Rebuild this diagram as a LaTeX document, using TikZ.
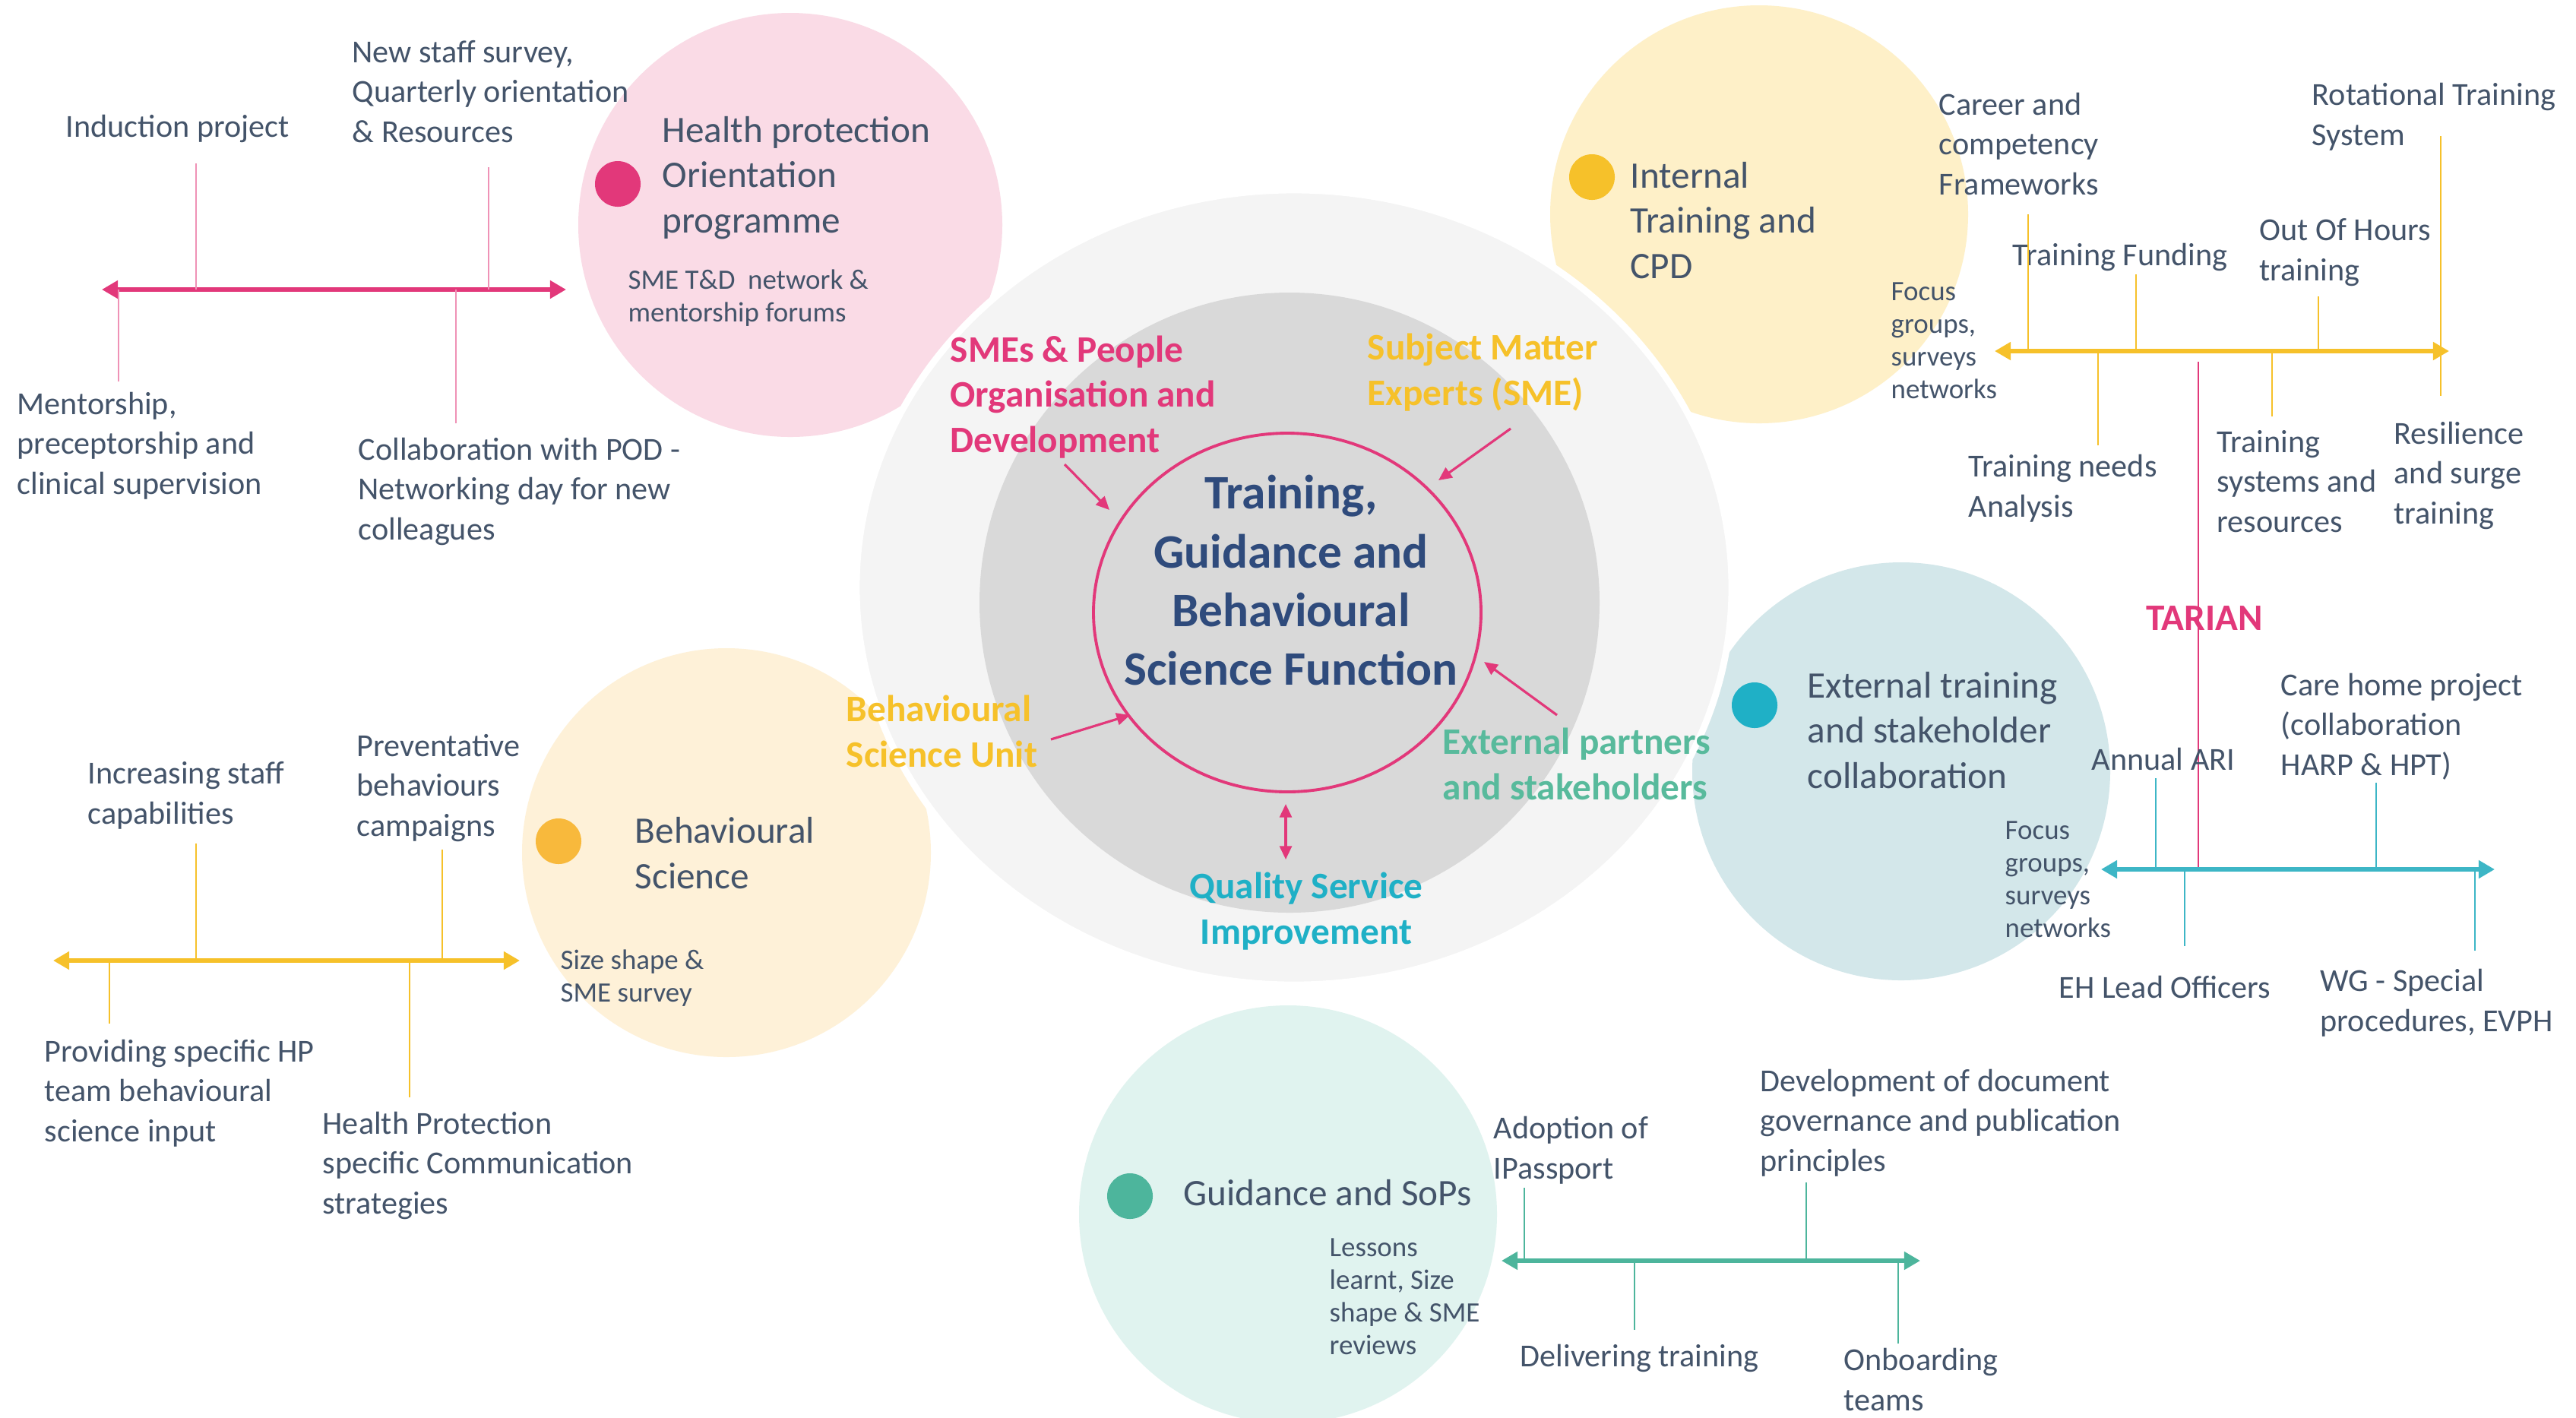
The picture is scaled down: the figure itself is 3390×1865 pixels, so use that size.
\documentclass[tikz,border=0pt]{standalone}
\usepackage{fontspec}
\setmainfont{Carlito}
\usetikzlibrary{arrows.meta}
\definecolor{labc}{HTML}{44546A}
\definecolor{titc}{HTML}{2F4B7C}
\definecolor{pinkc}{HTML}{E2387A}
\definecolor{pinkbg}{HTML}{FADBE6}
\definecolor{yelc}{HTML}{F6C12A}
\definecolor{yelbg}{HTML}{FEF0C8}
\definecolor{orbg}{HTML}{FEF1D8}
\definecolor{ordot}{HTML}{F8B93C}
\definecolor{tealc}{HTML}{1FB0C6}
\definecolor{tealbg}{HTML}{D3E7EA}
\definecolor{tealln}{HTML}{3DB6C6}
\definecolor{grnc}{HTML}{4DB59C}
\definecolor{grnbg}{HTML}{E0F3EF}
\definecolor{grntx}{HTML}{58BA9C}
\definecolor{outg}{HTML}{F4F4F4}
\definecolor{ing}{HTML}{D9D9D9}
\tikzset{
 lbl/.style={font=\fontsize{12}{14.8}\selectfont, text=labc, align=left, inner sep=0pt, anchor=base west},
 sml/.style={font=\fontsize{10.5}{12.2}\selectfont, text=labc, align=left, inner sep=0pt, anchor=base west},
 ttl/.style={font=\fontsize{14}{16.9}\selectfont, text=labc, align=left, inner sep=0pt, anchor=base west},
 bld/.style={font=\fontsize{14}{16.9}\selectfont\bfseries, align=left, inner sep=0pt, anchor=base west},
 tline/.style={line width=1.7pt, {Triangle[length=6pt,width=6.5pt]}-{Triangle[length=6pt,width=6.5pt]}},
 tick/.style={line width=0.6pt},
 carrow/.style={draw=pinkc, line width=0.9pt, -{Triangle[length=5pt,width=4.5pt]}},
 dot/.style={circle, inner sep=0pt, minimum size=0.6cm},
}
\begin{document}
\begin{tikzpicture}[x=0.01cm,y=-0.01cm]
\useasboundingbox (0,0) rectangle (3390,1865);
\fill[white] (0,0) rectangle (3390,1865);
% coloured circles
\fill[pinkbg] (1040,296) ellipse [x radius=279, y radius=279];
\fill[yelbg] (2315,282) ellipse [x radius=275, y radius=275];
\fill[tealbg] (2502,1015) ellipse [x radius=275, y radius=275];
\fill[orbg] (956,1122) ellipse [x radius=269, y radius=269];
\fill[grnbg] (1695,1598) ellipse [x radius=275, y radius=275];
% central circles
\filldraw[fill=outg, draw=white, line width=2.5pt] (1703,773) ellipse [x radius=576, y radius=523];
\fill[ing] (1697,793) ellipse [x radius=408, y radius=408];
\draw[pinkc, line width=1.1pt] (1694,806) ellipse [x radius=255, y radius=236];
% dots
\node[dot, fill=pinkc] (d1) at (813,242) {};
\node[dot, fill=yelc] (d2) at (2095,233) {};
\node[dot, fill=tealc] (d3) at (2309,928) {};
\node[dot, fill=ordot] (d4) at (735,1107) {};
\node[dot, fill=grnc] (d5) at (1487,1574) {};

% central texts (multi-line nodes are placed by the baseline of their last line)
\node[font=\fontsize{18}{21.9}\selectfont\bfseries, text=titc, align=center, inner sep=0pt, anchor=base] (ctr) at (1699,901) {Training,\\Guidance and\\Behavioural\\Science Function};
\node[bld, text=pinkc] (smes) at (1250,595) {SMEs \& People\\Organisation and\\Development};
\node[bld, text=yelc] (sme) at (1799,533) {Subject Matter\\Experts (SME)};
\node[bld, text=yelc] (bsu) at (1113,1009) {Behavioural\\Science Unit};
\node[bld, text=grntx] (ext) at (1898,1052) {External partners\\and stakeholders};
\node[bld, text=tealc, align=center, anchor=base] (qsi) at (1719,1242) {Quality Service\\Improvement};
\coordinate (a1s) at (1401,611); \coordinate (a1e) at (1460,671);
\coordinate (a2s) at (1988,564); \coordinate (a2e) at (1893,632);
\coordinate (a3s) at (1383,973); \coordinate (a3e) at (1487,941);
\coordinate (a4s) at (2049,941); \coordinate (a4e) at (1953,871);
\coordinate (a5s) at (1692,1058); \coordinate (a5e) at (1692,1131);
\draw[carrow] (a1s) -- (a1e);
\draw[carrow] (a2s) -- (a2e);
\draw[carrow] (a3s) -- (a3e);
\draw[carrow] (a4s) -- (a4e);
\draw[carrow, {Triangle[length=5pt,width=4.5pt]}-{Triangle[length=5pt,width=4.5pt]}] (a5s) -- (a5e);

% ===== Health protection orientation =====
\node[ttl] (hpo) at (871,306) {Health protection\\Orientation\\programme};
\node[sml] (hpos) at (826,423) {SME T\&D\ \ network \&\\mentorship forums};
\node[lbl] (ind) at (86,180) {Induction project};
\node[lbl] (nss) at (463,187) {New staff survey,\\Quarterly orientation\\\& Resources};
\node[lbl] (men) at (22,650) {Mentorship,\\preceptorship and\\clinical supervision};
\node[lbl] (col) at (471,710) {Collaboration with POD -\\Networking day for new\\colleagues};
\coordinate (pL) at (134,381); \coordinate (pR) at (745,381);
\draw[tline, draw=pinkc, color=pinkc] (pL) -- (pR);
\coordinate (p1) at (258,215); \coordinate (p2) at (643,220);
\coordinate (p3) at (156,502); \coordinate (p4) at (600,557);
\draw[tick, draw=pinkc!55] (p1) -- (p1 |- pL);
\draw[tick, draw=pinkc!55] (p2) -- (p2 |- pL);
\draw[tick, draw=pinkc!55] (p3) -- (p3 |- pL);
\draw[tick, draw=pinkc!55] (p4) -- (p4 |- pL);

% ===== Internal training and CPD =====
\node[ttl] (itc) at (2145,366) {Internal\\Training and\\CPD};
\node[lbl] (car) at (2551,256) {Career and\\competency\\Frameworks};
\node[lbl] (rot) at (3042,191) {Rotational Training\\System};
\node[lbl] (fun) at (2648,349) {Training Funding};
\node[lbl] (ooh) at (2973,369) {Out Of Hours\\training};
\node[sml] (foc1) at (2488,524) {Focus\\groups,\\surveys\\networks};
\node[lbl] (tna) at (2590,680) {Training needs\\Analysis};
\node[lbl] (tsr) at (2917,700) {Training\\systems and\\resources};
\node[lbl] (res) at (3150,689) {Resilience\\and surge\\training};
\coordinate (yL) at (2625,462); \coordinate (yR) at (3223,462);
\draw[tline, draw=yelc, color=yelc] (yL) -- (yR);
\coordinate (y1) at (2669,282); \coordinate (y2) at (2811,361);
\coordinate (y3) at (3051,390); \coordinate (y4) at (3212,179);
\coordinate (y5) at (2761,586); \coordinate (y6) at (2990,548);
\coordinate (y7) at (3212,521);
\draw[tick, draw=yelc] (y1) -- (y1 |- yL);
\draw[tick, draw=yelc] (y2) -- (y2 |- yL);
\draw[tick, draw=yelc] (y3) -- (y3 |- yL);
\draw[tick, draw=yelc] (y4) -- (y7);
\draw[tick, draw=yelc] (y5) -- (y5 |- yL);
\draw[tick, draw=yelc] (y6) -- (y6 |- yL);

% ===== TARIAN =====
\node[font=\fontsize{14}{16.9}\selectfont\bfseries, text=pinkc, inner sep=0pt, anchor=base] (tar) at (2901,829) {TARIAN};
\coordinate (t1) at (2893,476); \coordinate (t2) at (2893,1141);
\draw[tick, draw=pinkc, line width=0.7pt] (t1) -- (t2);

% ===== External training =====
\node[ttl] (ets) at (2378,1037) {External training\\and stakeholder\\collaboration};
\node[lbl] (ari) at (2752,1013) {Annual ARI};
\node[lbl] (chp) at (3001,1020) {Care home project\\(collaboration\\HARP \& HPT)};
\node[sml] (foc2) at (2638,1233) {Focus\\groups,\\surveys\\networks};
\node[lbl] (ehl) at (2709,1313) {EH Lead Officers};
\node[lbl] (wgs) at (3053,1357) {WG - Special\\procedures, EVPH};
\coordinate (eL) at (2765,1144); \coordinate (eR) at (3283,1144);
\draw[tline, draw=tealln, color=tealln] (eL) -- (eR);
\coordinate (e1) at (2837,1024); \coordinate (e2) at (3127,1030);
\coordinate (e3) at (2875,1245); \coordinate (e4) at (3257,1251);
\draw[tick, draw=tealln] (e1) -- (e1 |- eL);
\draw[tick, draw=tealln] (e2) -- (e2 |- eL);
\draw[tick, draw=tealln] (e3) -- (e3 |- eL);
\draw[tick, draw=tealln] (e4) -- (e4 |- eL);

% ===== Behavioural Science =====
\node[ttl] (bsc) at (835,1169) {Behavioural\\Science};
\node[sml] (ssh) at (737,1318) {Size shape \&\\SME survey};
\node[lbl] (inc) at (115,1084) {Increasing staff\\capabilities};
\node[lbl] (pre) at (469,1100) {Preventative\\behaviours\\campaigns};
\node[lbl] (pro) at (58,1502) {Providing specific HP\\team behavioural\\science input};
\node[lbl] (hps) at (424,1597) {Health Protection\\specific Communication\\strategies};
\coordinate (bL) at (70,1264); \coordinate (bR) at (684,1264);
\draw[tline, draw=yelc, color=yelc] (bL) -- (bR);
\coordinate (b1) at (258,1110); \coordinate (b2) at (582,1118);
\coordinate (b3) at (144,1347); \coordinate (b4) at (539,1444);
\draw[tick, draw=yelc] (b1) -- (b1 |- bL);
\draw[tick, draw=yelc] (b2) -- (b2 |- bL);
\draw[tick, draw=yelc] (b3) -- (b3 |- bL);
\draw[tick, draw=yelc] (b4) -- (b4 |- bL);

% ===== Guidance and SoPs =====
\node[ttl] (gsp) at (1557,1586) {Guidance and SoPs};
\node[sml] (les) at (1749,1782) {Lessons\\learnt, Size\\shape \& SME\\reviews};
\node[lbl] (ado) at (1965,1551) {Adoption of\\IPassport};
\node[lbl] (dev) at (2316,1541) {Development of document\\governance and publication\\principles};
\node[lbl] (del) at (2000,1798) {Delivering training};
\node[lbl] (onb) at (2426,1856) {Onboarding\\teams};
\coordinate (gL) at (1976,1659); \coordinate (gR) at (2527,1659);
\draw[tline, draw=grnc, color=grnc] (gL) -- (gR);
\coordinate (g1) at (2006,1563); \coordinate (g2) at (2377,1556);
\coordinate (g3) at (2151,1750); \coordinate (g4) at (2498,1768);
\draw[tick, draw=grnc] (g1) -- (g1 |- gL);
\draw[tick, draw=grnc] (g2) -- (g2 |- gL);
\draw[tick, draw=grnc] (g3) -- (g3 |- gL);
\draw[tick, draw=grnc] (g4) -- (g4 |- gL);
\end{tikzpicture}
\end{document}
